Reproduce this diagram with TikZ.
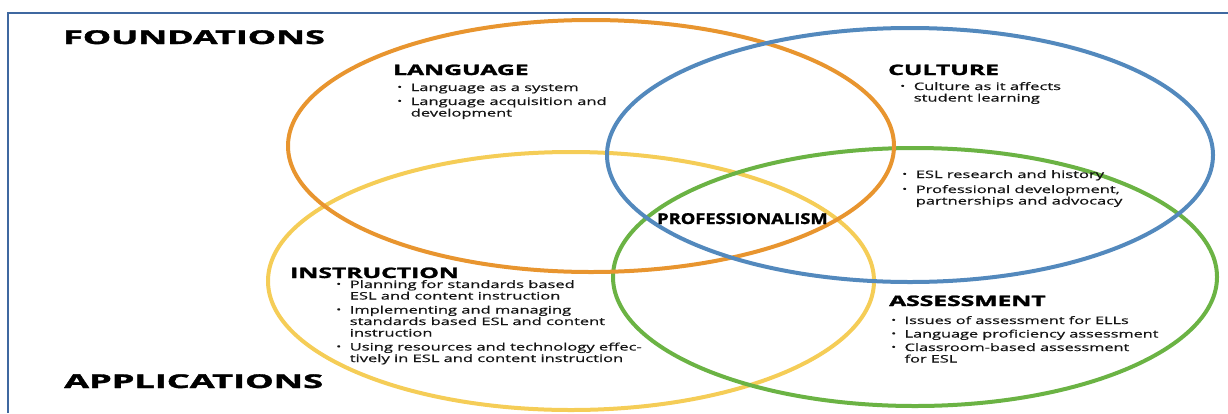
\documentclass[tikz,border=0pt]{standalone}
\usepackage{fontspec}
\setmainfont{Open Sans}
\newfontfamily\headfont[BoldFeatures={FakeBold=1.6}]{Open Sans}
\newfontfamily\bodyfont[FakeBold=0.6]{Open Sans}
\usetikzlibrary{positioning}

\definecolor{langorange}{RGB}{232,149,47}
\definecolor{cultblue}{RGB}{83,137,189}
\definecolor{instryellow}{RGB}{245,205,87}
\definecolor{assessgreen}{RGB}{107,179,68}
\definecolor{frameblue}{RGB}{63,104,160}
\definecolor{bodytext}{RGB}{20,20,20}

% the lettering of the chart is set wide
\newcommand{\widen}[2]{\scalebox{#1}[1]{#2}}
\newcommand{\blt}{\raisebox{0.2ex}{\scalebox{0.8}{\textbullet}}}

\tikzset{
  venn/.style={line width=4pt},
  frameline/.style={draw=frameblue, line width=1.5pt},
  bigtitle/.style={font=\headfont\fontsize{19}{19}\selectfont\bfseries, inner sep=0pt, anchor=base west},
  areahead/.style={font=\headfont\fontsize{14.5}{14.5}\selectfont\bfseries, inner sep=0pt, anchor=base west},
  corehead/.style={font=\headfont\fontsize{15}{15}\selectfont\bfseries, inner sep=0pt, anchor=base west},
  topics/.style={font=\bodyfont\fontsize{10.3}{11.5}\selectfont, text=bodytext, inner sep=0pt, anchor=base west}
}

\begin{document}
\begin{tikzpicture}[x=1pt, y=-1pt]
    \useasboundingbox (0,0) rectangle (1228,413);
    % frame
    \draw[frameline] (8,413) -- (8,13) -- (1228,13);

    % the four circles
    \draw[venn, instryellow] (571,281) ellipse [x radius=303pt, y radius=129pt];
    \draw[venn, assessgreen] (915,277) ellipse [x radius=302pt, y radius=129pt];
    \draw[venn, langorange] (591,146) ellipse [x radius=303pt, y radius=126pt];
    \draw[venn, cultblue] (910,155) ellipse [x radius=303pt, y radius=127pt];

    % Place nodes
    \node [bigtitle] (found) at (63,44) {\widen{1.88}{FOUNDATIONS}};
    \node [bigtitle] (appl) at (64,388) {\widen{1.9}{APPLICATIONS}};

    \node [areahead] (lang) at (393,75) {\widen{1.7}{LANGUAGE}};
    \node [topics] (langlist) at (397,91) {\widen{1.6}{\begin{tabular}[t]{@{}p{8.5pt}@{}l@{}}
        \blt & Language as a system\\[2.5pt]
        \blt & Language acquisition and\\
             & development
      \end{tabular}}};

    \node [areahead] (cult) at (888,75) {\widen{1.7}{CULTURE}};
    \node [topics] (cultlist) at (900,90) {\widen{1.6}{\begin{tabular}[t]{@{}p{8.5pt}@{}l@{}}
        \blt & Culture as it affects\\
             & student learning
      \end{tabular}}};

    \node [topics] (proflist) at (902,178) {\widen{1.6}{\begin{tabular}[t]{@{}p{8.5pt}@{}l@{}}
        \blt & ESL research and history\\[3.5pt]
        \blt & Professional development,\\
             & partnerships and advocacy
      \end{tabular}}};
    \node [corehead] (prof) at (657,224) {\widen{1.22}{PROFESSIONALISM}};

    \node [areahead] (instr) at (290,278) {\widen{1.7}{INSTRUCTION}};
    \node [topics] (instrlist) at (336,288) {\widen{1.6}{\begin{tabular}[t]{@{}p{8.5pt}@{}l@{}}
        \blt & Planning for standards based\\
             & ESL and content instruction\\[2.5pt]
        \blt & Implementing and managing\\
             & standards based ESL and content\\
             & instruction\\[2.5pt]
        \blt & Using resources and technology effec-\\
             & tively in ESL and content instruction
      \end{tabular}}};

    \node [areahead] (assess) at (889,306) {\widen{1.7}{ASSESSMENT}};
    \node [topics] (assesslist) at (891,324) {\widen{1.58}{\begin{tabular}[t]{@{}p{8.5pt}@{}l@{}}
        \blt & Issues of assessment for ELLs\\[2pt]
        \blt & Language proficiency assessment\\[2pt]
        \blt & Classroom-based assessment\\
             & for ESL
      \end{tabular}}};
\end{tikzpicture}
\end{document}
